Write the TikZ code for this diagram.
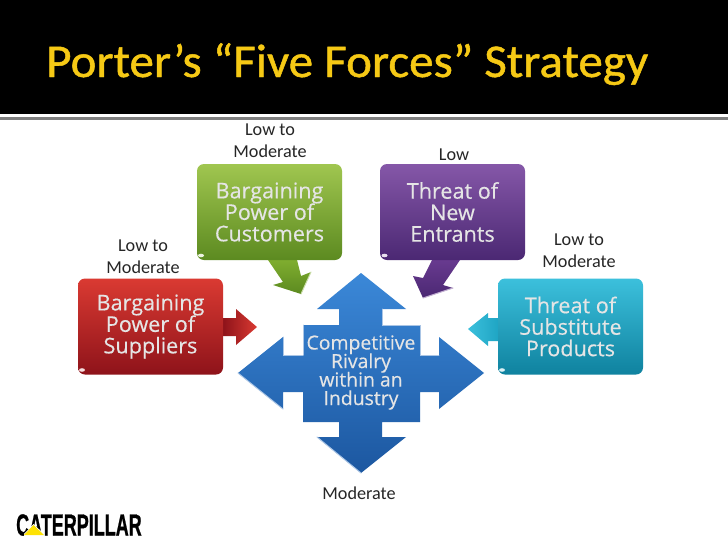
\documentclass[tikz,border=0pt]{standalone}
\usepackage{fontspec}
\usepackage{graphicx}
\setmainfont{Carlito}
\newfontfamily\titlefont[FakeBold=1]{Carlito}
\newfontfamily\boxfont[FakeBold=0.4]{Open Sans}
\newfontfamily\logofont[BoldFeatures={FakeBold=1}]{Liberation Sans}
\definecolor{titley}{HTML}{F6C915}
\definecolor{rulegrey}{HTML}{7F7F7F}
\definecolor{gt}{HTML}{A0C650}\definecolor{gm}{HTML}{7FAD2F}\definecolor{gb}{HTML}{5C8A20}
\definecolor{rt}{HTML}{DA3A32}\definecolor{rm}{HTML}{C0232A}\definecolor{rb}{HTML}{8E131A}
\definecolor{pt}{HTML}{8557A8}\definecolor{pm}{HTML}{683A8F}\definecolor{pb}{HTML}{4B2873}
\definecolor{ct}{HTML}{3CC0DC}\definecolor{cm}{HTML}{1FA5C4}\definecolor{cb}{HTML}{0F829F}
\definecolor{bt}{HTML}{3B88D8}\definecolor{bm}{HTML}{2A6FBE}\definecolor{bb}{HTML}{1C57A0}
\tikzset{
  x=1pt,y=-1pt,
  forcebox/.style n args={3}{rounded corners=7pt,minimum width=145pt,minimum height=96pt,inner sep=0pt,align=center,
    font=\boxfont\fontsize{21.6}{21.5}\selectfont,text=white!90!black,
    execute at begin node={\lineskiplimit=-20pt},
    top color=#1,middle color=#2,bottom color=#3},
  lab/.style={font=\fontsize{18.2}{22}\selectfont,align=center,text=black!85},
  bevel/.style={line width=1pt,white!60!#1,line cap=round},
  glint/.style={fill=white!85!#1},
}
\begin{document}
\begin{tikzpicture}
\useasboundingbox (0,0) rectangle (728,546);
\fill[white] (0,0) rectangle (728,546);
\fill[black] (0,0) rectangle (728,114);
\fill[rulegrey] (0,117) rectangle (728,119.5);
\node[anchor=base west,inner sep=0pt,text=titley,font=\titlefont\fontsize{47}{50}\selectfont] (title) at (46,77) {\scalebox{1.044}[1]{Porter’s “Five Forces” Strategy}};

% block arrows
\shade[top color=gm,bottom color=gb] (268,260) -- (297,260) -- (301,276) -- (311,272) -- (301,294) -- (273,285) -- (283,282) -- cycle;
\draw[bevel=gm] (311,272) -- (301,294);
\shade[left color=rb,right color=rt] (223,318) -- (236,318) -- (236,309) -- (257,327) -- (236,345) -- (236,336) -- (223,336) -- cycle;
\shade[top color=pm,bottom color=pb] (432,260) -- (460,260) -- (443,285) -- (453,288) -- (423,298) -- (413,276) -- (423,278) -- cycle;
\draw[bevel=pm] (453,288) -- (423,298);
\shade[left color=ct,right color=cm] (498,318) -- (488,318) -- (488,313) -- (468,329) -- (488,346) -- (488,341) -- (498,341) -- cycle;

% centre cross
\shade[top color=bt,bottom color=bb]
  (361,273) -- (406,309) -- (382,309) -- (382,325) -- (420,325) -- (420,355) -- (439,355) -- (439,337)
  -- (484,373) -- (439,409) -- (439,392) -- (420,392) -- (420,422) -- (382,422) -- (382,437) -- (406,437)
  -- (361,473) -- (317,437) -- (339,437) -- (339,422) -- (303,422) -- (303,392) -- (283,392) -- (283,409)
  -- (238,373) -- (283,337) -- (283,355) -- (303,355) -- (303,325) -- (339,325) -- (339,309) -- (317,309) -- cycle;
\draw[bevel=bm] (238,373) -- (283,409);
\draw[bevel=bm] (317,437) -- (361,473);
\draw[bevel=bm,line width=.8pt] (303,325) -- (303,355) (283,337) -- (283,355) -- (303,355);
\draw[bevel=bm,line width=.8pt] (382,309) -- (382,325) -- (420,325) -- (420,355) -- (439,355);
\node[inner sep=0pt,align=center,text=white!90!black,font=\boxfont\fontsize{19.4}{18.5}\selectfont,execute at begin node={\lineskiplimit=-20pt}] (rivalry) at (361,372.5) {Competitive\\Rivalry\\within an\\Industry};

% force boxes
\node[forcebox={gt}{gm}{gb}] (customers) at (269.5,212) {Bargaining\\Power of\\Customers};
\node[forcebox={rt}{rm}{rb}] (suppliers) at (150.5,326.5) {Bargaining\\Power of\\Suppliers};
\node[forcebox={pt}{pm}{pb}] (entrants) at (452.5,212) {Threat of\\New\\Entrants};
\node[forcebox={ct}{cm}{cb}] (substitutes) at (570.5,326.5) {Threat of\\Substitute\\Products};
\fill[glint=gm] (201,255.5) ellipse (3pt and 1.8pt);
\fill[glint=rm] (82,370) ellipse (3pt and 1.8pt);
\fill[glint=pm] (384.5,255.5) ellipse (3pt and 1.8pt);
\fill[glint=cm] (502,370) ellipse (3pt and 1.8pt);

% ratings
\node[lab] (l1) at (270,140.5) {Low to\\Moderate};
\node[lab] (l2) at (454,154.5) {Low};
\node[lab] (l3) at (143,256.5) {Low to\\Moderate};
\node[lab] (l4) at (579,250.5) {Low to\\Moderate};
\node[lab] (l5) at (359,493.5) {Moderate};

% logo
\node[anchor=base west,inner sep=0pt,font=\logofont\bfseries\fontsize{29}{29}\selectfont] (logo) at (16,535.5) {\scalebox{0.62}[1.05]{CATERPILLAR}};
\fill[white] (24,536) -- (24,534) -- (33.5,524) -- (44,534) -- (44,536) -- cycle;
\fill[yellow!85!orange] (24,535) -- (33.5,525) -- (44,535) -- cycle;
\end{tikzpicture}
\end{document}
